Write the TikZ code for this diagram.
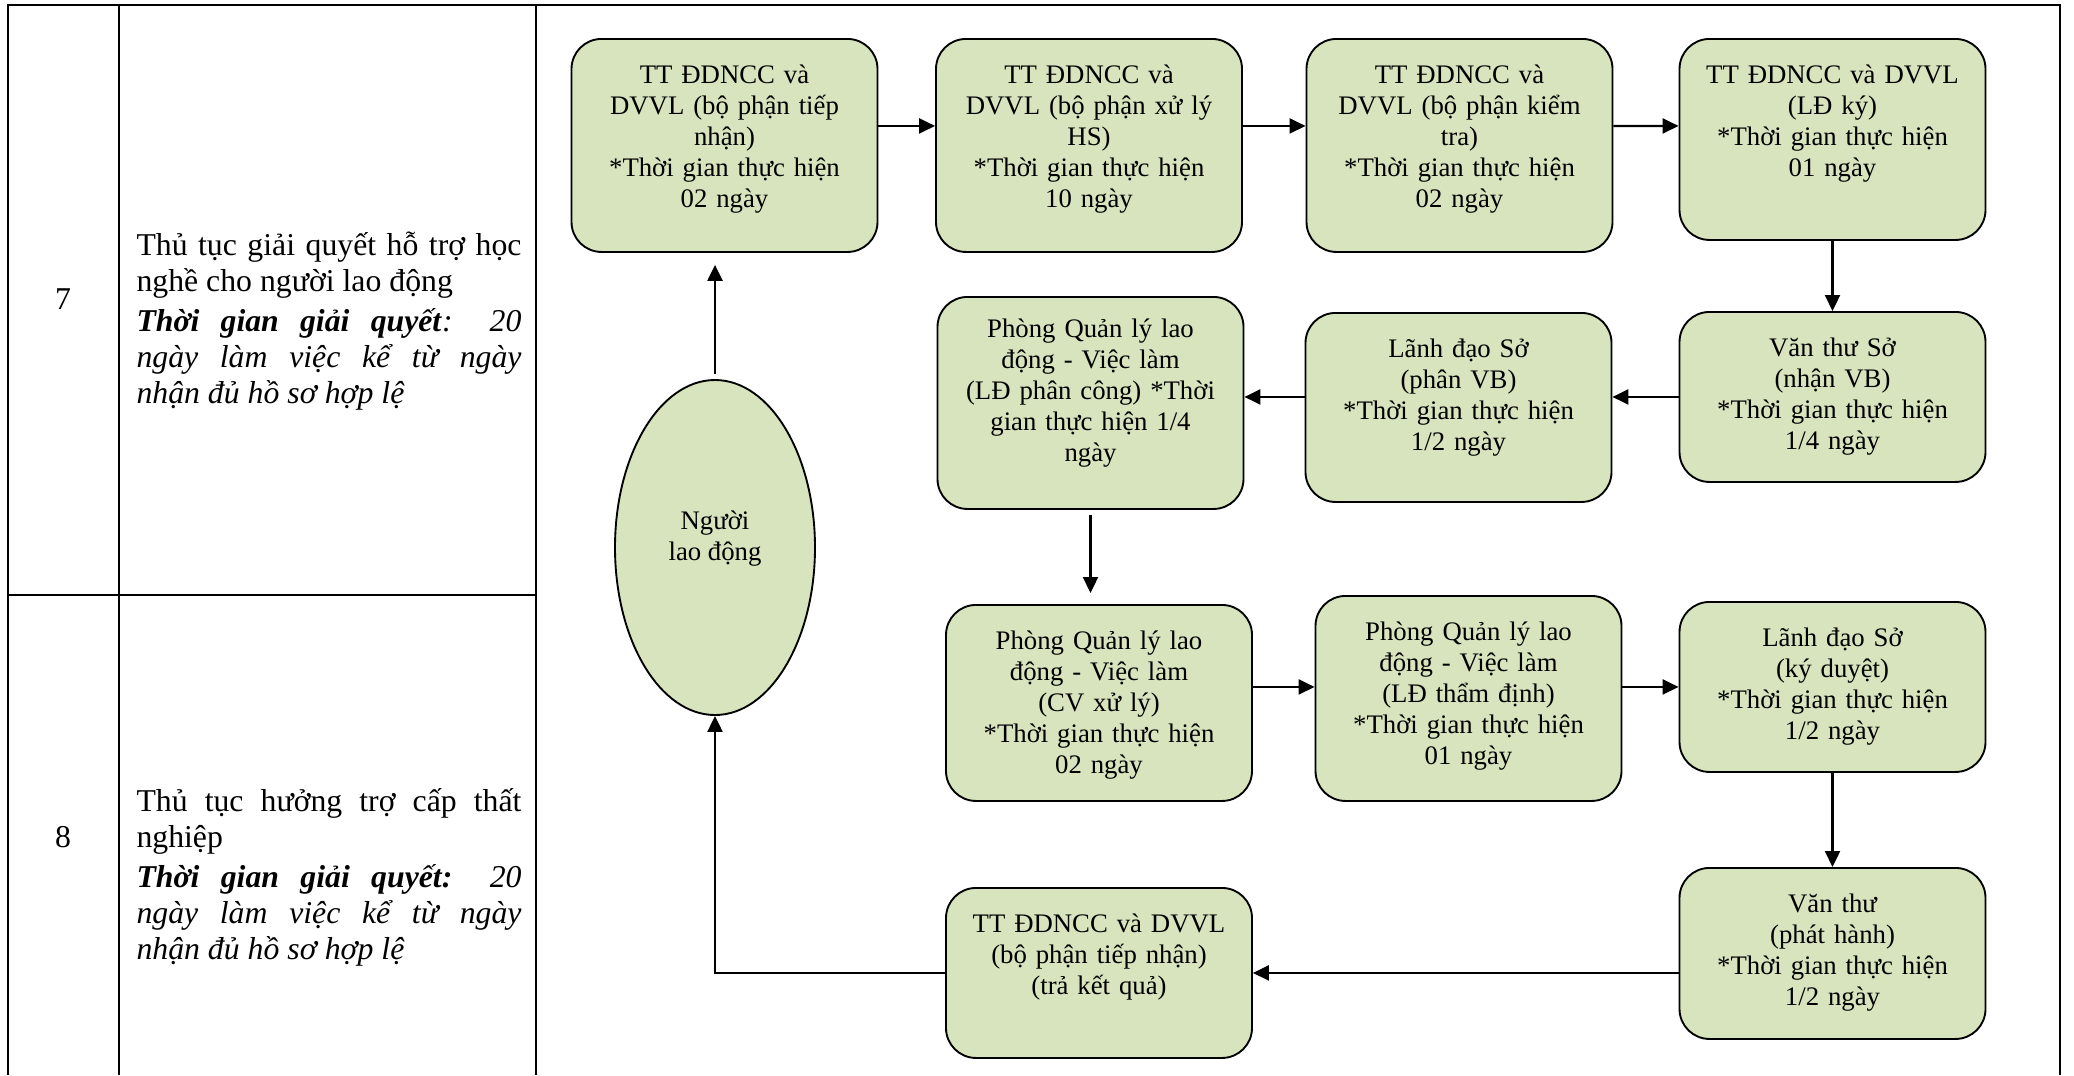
\documentclass[tikz,border=0pt]{standalone}
\usepackage{fontspec}
\setmainfont{Liberation Serif}
\usetikzlibrary{arrows.meta,shapes.geometric}
\definecolor{boxgreen}{HTML}{D7E4BD}
\newcommand\evenspaces{\spaceskip=3.2pt plus 12pt minus 1pt\relax}

\begin{document}
\begin{tikzpicture}[x=0.4pt, y=-0.4pt,
    tableline/.style={line width=0.9pt},
    stage/.style={draw, line width=0.75pt, rounded corners=12pt, fill=boxgreen, minimum width=122.4pt, anchor=north, inner sep=0pt},
    stagetext/.style={anchor=north, yshift=-9.8pt, inner sep=0pt, text width=122pt, align=center, text height=8pt, font=\fontsize{10.7}{12.4}\selectfont},
    flowarrow/.style={-{Triangle[length=6.4pt, width=6pt]}, line width=0.9pt},
    celltext/.style={anchor=north west, inner sep=0pt, text width=154pt, align=justify, text height=9pt, font=\fontsize{12.7}{14.4}\selectfont}]

    \useasboundingbox (0,0) rectangle (2074,1075);

    %% Table
    % Frame and columns
    \draw[tableline] (8,1075) -- (8,5) -- (2060,5) -- (2060,1075);
    \draw[tableline] (119,5) -- (119,1075);
    \draw[tableline] (536,5) -- (536,1075);
    \draw[tableline] (8,595) -- (536,595);

    % Row 7
    \node[font=\fontsize{12.7}{14.4}\selectfont] (no7) at (63,299) {7};
    \node[celltext] (row7) at (136,232) {\evenspaces Thủ tục giải quyết hỗ trợ học\linebreak nghề cho người lao động\\[1.6pt] \textbf{\textit{Thời gian giải quyết}}\textit{: 20\linebreak ngày làm việc kể từ ngày\linebreak nhận đủ hồ sơ hợp lệ}};

    % Row 8
    \node[font=\fontsize{12.7}{14.4}\selectfont] (no8) at (63,837) {8};
    \node[celltext] (row8) at (136,788) {\evenspaces Thủ tục hưởng trợ cấp thất\linebreak nghiệp\\[1.6pt] \textbf{\textit{Thời gian giải quyết:}}\textit{ 20\linebreak ngày làm việc kể từ ngày\linebreak nhận đủ hồ sơ hợp lệ}};

    %% Flow chart
    % Nguoi lao dong
    \node[ellipse, draw, line width=0.75pt, fill=boxgreen, minimum width=80pt, minimum height=134pt, inner sep=0pt, align=center, text depth=9.6pt, font=\fontsize{10.7}{12.4}\selectfont] (nld) at (715,547.5) {Người\\lao động};

    % First row
    \node[stage, minimum height=85.2pt] (tiepnhan) at (724.5,38) {};
    \node[stagetext] (tiepnhan-t) at (tiepnhan.north) {TT ĐDNCC và\\DVVL (bộ phận tiếp\\nhận)\\{}*Thời gian thực hiện\\02 ngày};
    \node[stage, minimum height=85.2pt] (xuly) at (1089,38) {};
    \node[stagetext] (xuly-t) at (xuly.north) {TT ĐDNCC và\\DVVL (bộ phận xử lý\\HS)\\{}*Thời gian thực hiện\\10 ngày};
    \node[stage, minimum height=85.2pt] (kiemtra) at (1459.5,38) {};
    \node[stagetext] (kiemtra-t) at (kiemtra.north) {TT ĐDNCC và\\DVVL (bộ phận kiểm\\tra)\\{}*Thời gian thực hiện\\02 ngày};
    \node[stage, minimum height=80.4pt] (ldky) at (1832.5,38) {};
    \node[stagetext] (ldky-t) at (ldky.north) {TT ĐDNCC và DVVL\\(LĐ ký)\\{}*Thời gian thực hiện\\01 ngày};

    % Second row
    \node[stage, minimum height=68pt] (vtnhan) at (1832.5,311) {};
    \node[stagetext] (vtnhan-t) at (vtnhan.north) {Văn thư Sở\\(nhận VB)\\{}*Thời gian thực hiện\\1/4 ngày};
    \node[stage, minimum height=75.6pt] (ldphan) at (1458.5,312) {};
    \node[stagetext] (ldphan-t) at (ldphan.north) {Lãnh đạo Sở\\(phân VB)\\{}*Thời gian thực hiện\\1/2 ngày};
    \node[stage, minimum height=84.8pt] (pcong) at (1090.5,296) {};
    \node[stagetext, yshift=1.6pt] (pcong-t) at (pcong.north) {Phòng Quản lý lao\\động - Việc làm\\(LĐ phân công) *Thời\\gian thực hiện 1/4\\ngày};

    % Third row
    \node[stage, minimum height=78.4pt] (cvxuly) at (1099,604) {};
    \node[stagetext] (cvxuly-t) at (cvxuly.north) {Phòng Quản lý lao\\động - Việc làm\\(CV xử lý)\\{}*Thời gian thực hiện\\02 ngày};
    \node[stage, minimum height=82pt] (thamdinh) at (1468.5,595) {};
    \node[stagetext] (thamdinh-t) at (thamdinh.north) {Phòng Quản lý lao\\động - Việc làm\\(LĐ thẩm định)\\{}*Thời gian thực hiện\\01 ngày};
    \node[stage, minimum height=68pt] (kyduyet) at (1832.5,601) {};
    \node[stagetext] (kyduyet-t) at (kyduyet.north) {Lãnh đạo Sở\\(ký duyệt)\\{}*Thời gian thực hiện\\1/2 ngày};

    % Fourth row
    \node[stage, minimum height=68.4pt] (phathanh) at (1832.5,867) {};
    \node[stagetext] (phathanh-t) at (phathanh.north) {Văn thư\\(phát hành)\\{}*Thời gian thực hiện\\1/2 ngày};
    \node[stage, minimum height=68pt] (traketqua) at (1099,887) {};
    \node[stagetext] (traketqua-t) at (traketqua.north) {TT ĐDNCC và DVVL\\(bộ phận tiếp nhận)\\(trả kết quả)};

    %% Arrows
    % Nop ho so
    \draw[flowarrow, shorten <=2pt, shorten >=4.8pt] (nld.north) -- (nld.north |- tiepnhan.south);

    % First row
    \draw[flowarrow] ([yshift=7.8pt]tiepnhan.east) -- ([yshift=7.8pt]xuly.west);
    \draw[flowarrow] ([yshift=7.8pt]xuly.east) -- ([yshift=7.8pt]kiemtra.west);
    \draw[flowarrow] ([yshift=7.8pt]kiemtra.east) -- ([yshift=5.4pt]ldky.west);
    \draw[flowarrow] (ldky.south) -- (vtnhan.north);

    % Second row
    \draw[flowarrow] (vtnhan.west) -- (vtnhan.west -| ldphan.east);
    \draw[flowarrow] (vtnhan.west -| ldphan.west) -- (vtnhan.west -| pcong.east);
    \draw[flowarrow, shorten <=2pt, shorten >=4.4pt] (pcong.south) -- (pcong.south |- cvxuly.north);

    % Third row
    \draw[flowarrow] (cvxuly.east |- kyduyet.west) -- (thamdinh.west |- kyduyet.west);
    \draw[flowarrow] (thamdinh.east |- kyduyet.west) -- (kyduyet.west);
    \draw[flowarrow] (kyduyet.south) -- (phathanh.north);

    % Tra ket qua
    \draw[flowarrow] (phathanh.west |- traketqua.east) -- (traketqua.east);
    \draw[flowarrow] (traketqua.west) -| (nld.south);

\end{tikzpicture}
\end{document}
